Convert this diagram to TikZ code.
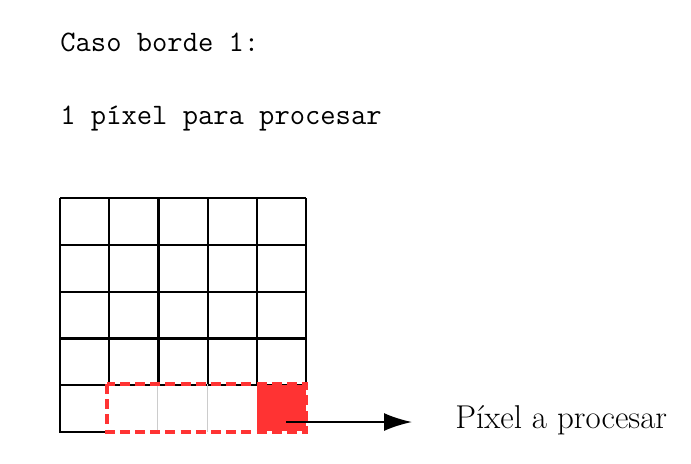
\documentclass[tikz,border=0pt]{standalone}
\usepackage{fontspec}
\usetikzlibrary{arrows.meta}
\definecolor{pixred}{RGB}{255,51,51}
\begin{document}
\begin{tikzpicture}[x=0.5pt,y=-0.5pt,
  gridline/.style={black,line width=1.1pt},
  innerline/.style={black!20,line width=0.6pt},
  window/.style={pixred,line width=1.8pt,dash pattern=on 5pt off 2.6pt},
  pixcell/.style={fill=pixred,draw=none,inner sep=0pt,minimum width=24.6pt,minimum height=23.4pt},
  ttlabel/.style={inner sep=0pt,anchor=base west,font=\fontsize{14.85}{17}\ttfamily},
  rmlabel/.style={inner sep=0pt,anchor=base west,font=\fontsize{16.5}{19}\selectfont\rmfamily},
  pointer/.style={black,line width=1.1pt,-{Latex[length=14pt,width=9pt]}}]
\useasboundingbox (0,0) rectangle (691,463);
\node[ttlabel] (t1) at (60,51) {Caso borde 1:};
\node[ttlabel] (t2) at (60,124) {1 píxel para procesar};
% grid
\foreach \i in {0,...,5}
  \draw[gridline] ({60+49.2*\i},198) -- ({60+49.2*\i},384);
\foreach \j in {0,...,4}
  \draw[gridline] (60,{198+46.8*\j}) -- (306,{198+46.8*\j});
\draw[gridline] (60,384) -- (60,432) -- (107,432);
\draw[innerline] (157.4,384) -- (157.4,432);
\draw[innerline] (207.6,384) -- (207.6,432);
\node[pixcell] (pix) at (281.4,408) {};
\draw[window] (107,384) rectangle (306,432);
\coordinate (src) at (286,422);
\node[rmlabel] (lab) at (455,428) {Píxel a procesar};
\draw[pointer] (src) -- (lab.west |- src) [shorten >=21.5pt];
\end{tikzpicture}
\end{document}
